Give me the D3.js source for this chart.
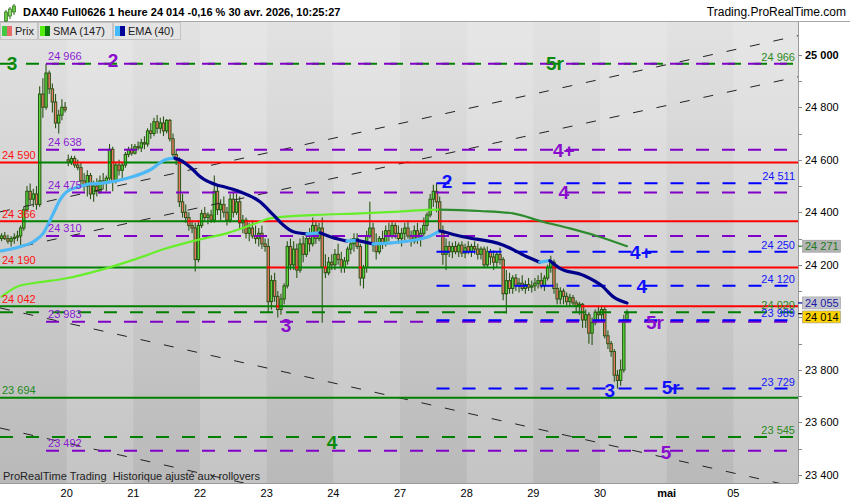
<!DOCTYPE html>
<html><head><meta charset="utf-8">
<script src="https://cdn.jsdelivr.net/npm/d3@7"></script>
<style>
body{margin:0;background:#fff;}
svg{display:block;font-family:"Liberation Sans",Arial,sans-serif;}
</style></head><body>
<svg id="c" width="850" height="500"></svg>
<script>
// ---------------- DATA ----------------
const days = ["17","20","21","22","23","24","27","28","29","30","mai","05"];
const barsPerDay = 21;
// hourly candles [open, high, low, close]
const candles = [
[24300,24320,24290,24310],[24310,24325,24295,24300],[24300,24315,24280,24290],[24290,24310,24270,24300],
[24300,24320,24280,24305],[24305,24330,24290,24310],[24310,24350,24270,24340],[24340,24420,24330,24410],
[24410,24500,24400,24480],[24480,24510,24430,24450],[24450,24490,24420,24470],[24470,24500,24410,24430],
[24430,24880,24420,24850],[24850,24910,24760,24800],[24800,24966,24790,24930],[24930,24940,24850,24870],
[24870,24890,24780,24820],[24820,24850,24720,24740],[24740,24790,24700,24770],[24770,24830,24750,24800],
[24800,24820,24780,24790],
[24600,24620,24575,24590],[24590,24615,24580,24605],[24605,24615,24570,24580],[24580,24600,24560,24570],
[24570,24590,24500,24520],[24520,24550,24480,24500],[24500,24560,24460,24540],[24540,24550,24450,24470],
[24470,24520,24440,24500],[24500,24530,24460,24480],[24480,24540,24470,24520],[24520,24550,24490,24510],
[24510,24540,24480,24530],[24530,24660,24520,24640],[24640,24650,24480,24520],[24520,24590,24510,24580],
[24580,24600,24540,24560],[24560,24590,24530,24580],[24580,24630,24570,24620],[24620,24650,24610,24640],
[24640,24660,24615,24625],
[24625,24660,24620,24650],[24650,24670,24635,24645],[24645,24680,24630,24665],[24665,24690,24640,24660],
[24660,24720,24650,24710],[24710,24740,24680,24700],[24700,24760,24690,24745],[24745,24770,24700,24720],
[24720,24760,24700,24740],[24740,24765,24690,24710],[24710,24755,24700,24750],[24750,24755,24670,24680],
[24680,24700,24600,24620],[24620,24640,24580,24600],[24600,24610,24420,24440],[24440,24470,24380,24400],
[24400,24430,24360,24380],[24380,24400,24330,24350],[24350,24370,24320,24340],[24340,24360,24175,24220],
[24220,24370,24210,24350],
[24350,24410,24340,24395],[24395,24420,24370,24380],[24380,24400,24355,24390],[24390,24410,24360,24370],
[24370,24540,24360,24480],[24480,24500,24390,24410],[24410,24450,24370,24430],[24430,24460,24380,24400],
[24400,24420,24350,24370],[24370,24470,24360,24450],[24450,24480,24380,24400],[24400,24470,24390,24440],
[24440,24460,24340,24360],[24360,24390,24320,24370],[24370,24380,24300,24320],[24320,24360,24290,24340],
[24340,24370,24300,24310],[24310,24350,24280,24300],[24300,24340,24270,24320],[24320,24350,24260,24280],
[24280,24300,24250,24270],
[24270,24300,24020,24060],[24060,24160,24030,24140],[24140,24170,24060,24080],[24080,24100,24000,24030],
[24030,24090,24010,24070],[24070,24130,24050,24120],[24120,24290,24110,24270],[24270,24300,24180,24200],
[24200,24290,24180,24260],[24260,24280,24150,24180],[24180,24300,24170,24280],[24280,24310,24210,24240],
[24240,24320,24230,24300],[24300,24340,24250,24280],[24280,24380,24270,24350],[24350,24370,24280,24300],
[24300,24360,24290,24340],[24340,24380,23980,24190],[24190,24240,24150,24170],[24170,24230,24160,24210],
[24210,24240,24180,24200],
[24200,24260,24180,24240],[24240,24280,24200,24220],[24220,24250,24170,24190],[24190,24230,24170,24215],
[24215,24270,24200,24260],[24260,24300,24240,24280],[24280,24320,24250,24300],[24300,24320,24260,24270],
[24270,24280,24120,24150],[24150,24200,24110,24190],[24190,24330,24170,24310],[24310,24440,24300,24340],
[24340,24360,24250,24280],[24280,24320,24220,24250],[24250,24310,24240,24300],[24300,24330,24260,24280],
[24280,24350,24270,24330],[24330,24360,24290,24310],[24310,24370,24300,24350],[24350,24360,24300,24320],
[24320,24350,24280,24300],
[24300,24340,24270,24320],[24320,24360,24290,24340],[24340,24370,24300,24310],[24310,24330,24270,24290],
[24290,24350,24280,24330],[24330,24360,24280,24300],[24300,24340,24270,24320],[24320,24380,24310,24350],
[24350,24400,24330,24390],[24390,24470,24380,24450],[24450,24505,24420,24480],[24480,24511,24400,24440],
[24440,24460,24320,24330],[24330,24350,24200,24240],[24240,24300,24180,24270],[24270,24290,24230,24250],
[24250,24285,24225,24270],[24270,24290,24240,24250],[24250,24285,24230,24275],[24275,24290,24230,24245],
[24245,24280,24225,24265],
[24270,24290,24240,24250],[24250,24280,24230,24270],[24270,24290,24240,24260],[24260,24280,24220,24240],
[24240,24270,24220,24260],[24260,24270,24190,24200],[24200,24270,24190,24250],[24250,24260,24200,24230],
[24230,24255,24180,24210],[24210,24250,24190,24240],[24240,24265,24200,24220],[24220,24230,24065,24090],
[24090,24180,24015,24140],[24140,24170,24090,24110],[24110,24160,24090,24150],[24150,24165,24100,24120],
[24120,24150,24095,24130],[24130,24160,24100,24110],[24110,24140,24090,24125],[24125,24150,24100,24115],
[24115,24140,24095,24120],
[24120,24150,24100,24130],[24130,24160,24110,24140],[24140,24170,24110,24120],[24120,24160,24100,24150],
[24150,24200,24140,24190],[24190,24235,24170,24210],[24210,24220,24090,24110],[24110,24130,24050,24070],
[24070,24115,24050,24100],[24100,24110,24050,24080],[24080,24095,24045,24060],[24060,24090,24040,24075],
[24075,24085,24040,24055],[24055,24065,24020,24045],[24045,24060,24010,24050],[24050,24055,23960,23990],
[23990,24030,23960,24010],[24010,24020,23900,23940],[23940,24000,23895,23980],[23980,24030,23970,24020],
[24020,24040,23990,24010],
[24010,24045,23990,24030],[24030,24040,23920,23930],[23930,23950,23880,23900],[23900,23910,23850,23870],
[23870,23880,23755,23780],[23780,23800,23729,23760],[23760,23840,23740,23800],[23800,24010,23790,23990],
[23990,24030,23980,24014]
];
// moving averages (bar index, value)
const smaIdx = [0,4.8,10,20.5,31,41.5,52,62.5,70.9,81.4,84.5,99.2,112.9,123.4,133.9,138,144.4,150.7,161.1,170.5,179,187.5,197];
const smaVal = [24079,24117,24130,24149,24180,24219,24263,24297,24320,24364,24377,24390,24396,24402,24409,24410,24408,24405,24396,24364,24339,24310,24271];
const emaIdx = [0,5.8,10,13.1,16.3,18.4,20.5,24.7,27.8,31,36.3,41.5,46.7,52,54.6,56.2,60.4,62.5,67.8,69.8,75.1,81.4,85.6,88.7,91.9,96.2,100.3,104,108.8,112,117,123,134,138.1,145.3,157.9,165.5,169.5,172.7,175.9,183.1,189.4,192.6,197];
const emaVal = [24253,24269,24288,24320,24396,24447,24478,24498,24508,24510,24520,24536,24561,24602,24606,24599,24561,24536,24504,24498,24478,24440,24390,24352,24326,24318,24322,24305,24290,24293,24280,24284,24305,24329,24307,24276,24231,24210,24216,24187,24161,24117,24079,24055];
const lastPrice = 24014;
// support / resistance levels (solid)
const srLevels = [24590, 24366, 24190, 24042, 23694];
// projection levels (dashed)
const purpleLevels = [24966, 24638, 24475, 24310, 23983, 23492];
const purpleStart = 14;
const blueLevels = [24511, 24250, 24120, 23989, 23729];
const blueStart = 137;
const greenLevels = [24966, 24020, 23545];
const greenStart = -0.5;
// trend lines: [[barIndex, price],[barIndex, price]]
const trendLines = [
  [[6.74,24421],[237.6,25037]],
  [[-0.5,24252],[237.6,24881]],
  [[-0.5,24036],[232.6,23402]],
  [[-0.5,23579],[75.1,23373]]
];
// wave annotations
const waveLabels = [
  {t:"3", c:"green", i:3.3, v:24966},
  {t:"2", c:"purple", i:35.1, v:24980},
  {t:"5r", c:"green", i:174.3, v:24966},
  {t:"4+", c:"purple", i:177.1, v:24638},
  {t:"4", c:"purple", i:177.1, v:24475},
  {t:"2", c:"blue", i:140.3, v:24519},
  {t:"4+", c:"blue", i:201.4, v:24250},
  {t:"4", c:"blue", i:201.7, v:24120},
  {t:"3", c:"purple", i:89.6, v:23971},
  {t:"5r", c:"purple", i:205.8, v:23983},
  {t:"3", c:"blue", i:191.6, v:23723},
  {t:"5r", c:"blue", i:210.8, v:23735},
  {t:"4", c:"green", i:104.1, v:23526},
  {t:"5", c:"purple", i:209.3, v:23488}
];
const yTicks = [23400,23600,23800,24000,24200,24400,24600,24800,25000];
const yMinor = [23500,23700,23900,24100,24300,24500,24700,24900];

// ---------------- CHART ----------------
const W=850,H=500, L=0, R=798, T=22, B=483;
const svg = d3.select("#c");
const x = d3.scaleLinear().domain([0, barsPerDay]).range([0, 200/3]);
const y = d3.scaleLinear().domain([23400,25000]).range([475,54.7]);
const fmt = d3.formatLocale({decimal:",",thousands:" ",grouping:[3],currency:["",""]}).format(",d");

const defs = svg.append("defs");
const gr = defs.append("linearGradient").attr("id","bg").attr("x1",0).attr("y1",0).attr("x2",0).attr("y2",1);
gr.append("stop").attr("offset","0%").attr("stop-color","#e2e2e2");
gr.append("stop").attr("offset","100%").attr("stop-color","#b9b9b9");
defs.append("clipPath").attr("id","clip").append("rect").attr("x",L).attr("y",T).attr("width",R-L).attr("height",B-T);

svg.append("rect").attr("width",W).attr("height",H).attr("fill","#fff");
svg.append("rect").attr("x",L).attr("y",T).attr("width",R-L).attr("height",B-T).attr("fill","url(#bg)");
// day bands
svg.append("g").selectAll("rect").data(days).join("rect")
  .attr("x",(d,k)=>x(k*barsPerDay)).attr("y",T)
  .attr("width",x(barsPerDay)).attr("height",B-T)
  .attr("fill","#fff").attr("opacity",(d,k)=>k%2===1?0.16:0)
  .attr("clip-path","url(#clip)");

const plot = svg.append("g").attr("clip-path","url(#clip)");

// candles
const cg = plot.append("g");
cg.selectAll("line").data(candles).join("line")
  .attr("x1",(d,i)=>x(i+0.5)).attr("x2",(d,i)=>x(i+0.5))
  .attr("y1",d=>y(d[1])).attr("y2",d=>y(d[2]))
  .attr("stroke","#2a5515").attr("stroke-width",1.1);
cg.selectAll("rect").data(candles).join("rect")
  .attr("x",(d,i)=>x(i+0.5)-1.2).attr("width",2.4)
  .attr("y",d=>y(Math.max(d[0],d[3])))
  .attr("height",d=>Math.max(0.8,y(Math.min(d[0],d[3]))-y(Math.max(d[0],d[3]))))
  .attr("fill",d=>d[3]>=d[0]?"#55d838":"#f07868")
  .attr("stroke","#2a5515").attr("stroke-width",1);

// trend lines (black dashed)
const xEndIdx = x.invert(R);
plot.selectAll("line.tr").data(trendLines).join("line").attr("class","tr")
  .each(function(d){
    const [a,b]=d; const s=(b[1]-a[1])/(b[0]-a[0]);
    const i0=-0.5, i1=xEndIdx;
    d3.select(this).attr("x1",x(i0+0.5)).attr("y1",y(a[1]+s*(i0-a[0])))
      .attr("x2",x(i1+0.5)).attr("y2",y(a[1]+s*(i1-a[0])));
  })
  .attr("stroke","#222").attr("stroke-width",1).attr("stroke-dasharray","10,14");

// support/resistance solid lines colored by close vs level
srLevels.forEach(lv=>{
  const runs=[]; let cur=null;
  candles.forEach((d,i)=>{
    const c = d[3]>=lv ? "#008000" : "#ff0000";
    if(!cur||cur.c!==c){cur={c,a:i,b:i+1};runs.push(cur);} else cur.b=i+1;
  });
  runs[runs.length-1].b = xEndIdx;
  plot.append("g").selectAll("line").data(runs).join("line")
    .attr("x1",r=>x(r.a)).attr("x2",r=>x(r.b)).attr("y1",y(lv)).attr("y2",y(lv))
    .attr("stroke",r=>r.c).attr("stroke-width",2);
  const endColor = candles[candles.length-1][3]>=lv ? "#008000" : "#ff0000";
  svg.append("text").attr("x",2).attr("y",y(lv)-3.5).attr("font-size",11)
    .attr("fill",endColor==="#ff0000"?"#ff1010":"#1a8a1a").text(fmt(lv));
});

// dashed projection lines
const dashEnd = R-5;
function dashed(levels,start,color){
  plot.append("g").selectAll("line").data(levels).join("line")
    .attr("x1",x(start+0.5)).attr("x2",dashEnd).attr("y1",d=>y(d)).attr("y2",d=>y(d))
    .attr("stroke",color).attr("stroke-width",2).attr("stroke-dasharray","13,13");
}
dashed(greenLevels,greenStart,"#008000");
dashed(purpleLevels,purpleStart,"#8000c8");
dashed(blueLevels,blueStart,"#0000ff");

// purple level labels (left)
svg.append("g").selectAll("text").data(purpleLevels).join("text")
  .attr("x",x(purpleStart+0.5)+2).attr("y",d=>y(d)-3.5).attr("font-size",11)
  .attr("fill","#8a1ad0").text(d=>fmt(d));
// blue & green level labels (right)
svg.append("g").selectAll("text").data(blueLevels).join("text")
  .attr("x",795).attr("y",d=>y(d)-3).attr("font-size",11).attr("text-anchor","end")
  .attr("fill","#1515ff").text(d=>fmt(d));
svg.append("g").selectAll("text").data(greenLevels).join("text")
  .attr("x",795).attr("y",d=>y(d)-3).attr("font-size",11).attr("text-anchor","end")
  .attr("fill","#2a8a1a").text(d=>fmt(d));

// moving averages
function colorRuns(idx,val){
  const segs=[]; let cur=null;
  for(let k=1;k<idx.length;k++){
    const up = val[k]>val[k-1];
    if(!cur||cur.up!==up){cur={up,pts:[[idx[k-1],val[k-1]]]};segs.push(cur);}
    cur.pts.push([idx[k],val[k]]);
  }
  return segs;
}
const maLine = d3.line().x(p=>x(p[0]+0.5)).y(p=>y(p[1])).curve(d3.curveMonotoneX);
plot.append("g").selectAll("path").data(colorRuns(smaIdx,smaVal)).join("path")
  .attr("d",s=>maLine(s.pts)).attr("fill","none")
  .attr("stroke",s=>s.up?"#66ee2a":"#2e8b2e").attr("stroke-width",2.2).attr("stroke-linecap","round");
plot.append("g").selectAll("path").data(colorRuns(emaIdx,emaVal)).join("path")
  .attr("d",s=>maLine(s.pts)).attr("fill","none")
  .attr("stroke",s=>s.up?"#4cb8f5":"#00008b").attr("stroke-width",3.2).attr("stroke-linecap","round");

// wave labels
svg.append("g").selectAll("text").data(waveLabels).join("text")
  .attr("x",d=>x(d.i+0.5)).attr("y",d=>y(d.v)).attr("dy","0.36em")
  .attr("text-anchor","middle").attr("font-size",19).attr("font-weight","bold")
  .attr("fill",d=>d.c==="green"?"#0a8a0a":d.c==="purple"?"#8a0ccf":"#1010ff")
  .text(d=>d.t);

// footer text inside plot
svg.append("text").attr("x",3).attr("y",480).attr("font-size",11).attr("fill","#222")
  .style("white-space","pre").text("ProRealTime Trading  Historique ajusté aux rollovers");

// header
svg.append("rect").attr("x",0).attr("y",0).attr("width",W).attr("height",T).attr("fill","#fff");
svg.append("line").attr("x1",0).attr("x2",W).attr("y1",21.5).attr("y2",21.5).attr("stroke","#a8a8a8");
const icon = svg.append("g");
[[6,10,14,1],[10,7,12,0],[14,4,11,1]].forEach(c=>{
  icon.append("line").attr("x1",c[0]).attr("x2",c[0]).attr("y1",c[1]).attr("y2",c[1]+c[2]).attr("stroke","#2b6a16");
  icon.append("rect").attr("x",c[0]-1.5).attr("y",c[1]+2).attr("width",3).attr("height",c[2]-5)
    .attr("fill",c[3]?"#66cc44":"#88dd66").attr("stroke","#2b6a16").attr("stroke-width",0.7);
});
svg.append("text").attr("x",23).attr("y",16).attr("font-size",11).attr("font-weight","bold").attr("fill","#000")
  .text("DAX40 Full0626 1 heure 24 014 -0,16 % 30 avr. 2026, 10:25:27");
svg.append("text").attr("x",846).attr("y",16).attr("font-size",12).attr("text-anchor","end").attr("fill","#000")
  .text("Trading.ProRealTime.com");

// legend
const legend = [
  {t:"Prix", x:0, w:37, c1:"#44c844", c2:"#e86a6a"},
  {t:"SMA (147)", x:38, w:74, c1:"#55ee11", c2:"#0a7a0a"},
  {t:"EMA (40)", x:113, w:67, c1:"#44bbff", c2:"#000099"}
];
const lg = svg.append("g").selectAll("g").data(legend).join("g");
lg.append("rect").attr("x",d=>d.x+0.5).attr("y",22.5).attr("width",d=>d.w).attr("height",17)
  .attr("fill","#e4e4e4").attr("stroke","#c4c4c4");
lg.append("rect").attr("x",d=>d.x+2).attr("y",26).attr("width",5).attr("height",10).attr("fill",d=>d.c1);
lg.append("rect").attr("x",d=>d.x+7).attr("y",26).attr("width",5).attr("height",10).attr("fill",d=>d.c2);
lg.append("text").attr("x",d=>d.x+15).attr("y",35).attr("font-size",11).attr("fill","#222").text(d=>d.t);

// right axis
svg.append("rect").attr("x",R).attr("y",T).attr("width",W-R).attr("height",H-T).attr("fill","#fff");
svg.append("line").attr("x1",R+0.5).attr("x2",R+0.5).attr("y1",T).attr("y2",B).attr("stroke","#9a9a9a");
svg.append("g").selectAll("line").data(yTicks.concat(yMinor)).join("line")
  .attr("x1",R).attr("x2",R+4).attr("y1",d=>Math.round(y(d))+0.5).attr("y2",d=>Math.round(y(d))+0.5)
  .attr("stroke","#888");
svg.append("g").selectAll("text").data(yTicks).join("text")
  .attr("x",805).attr("y",d=>y(d)).attr("dy","0.35em").attr("font-size",11)
  .attr("font-weight",d=>d%1000===0?"bold":"normal").attr("fill","#000").text(d=>fmt(d));

// value boxes on right axis
const smaLast = smaVal[smaVal.length-1], emaLast = emaVal[emaVal.length-1];
const boxes = [
  {v:smaLast, fill:"#b4b4b4", tc:"#217a21", tick:"#217a21", cy:y(smaLast)},
  {v:emaLast, fill:"#c4c4cc", tc:"#1a1aa0", tick:"#000099", cy:y(emaLast)},
  {v:lastPrice, fill:"#ffd200", tc:"#000", tick:"#000", cy:Math.max(y(lastPrice), y(emaLast)+14)}
];
const bx = svg.append("g").selectAll("g").data(boxes).join("g");
bx.append("line").attr("x1",R).attr("x2",803).attr("y1",d=>y(d.v)).attr("y2",d=>y(d.v)).attr("stroke",d=>d.tick).attr("stroke-width",1.2);
bx.append("rect").attr("x",802.5).attr("y",d=>d.cy-6).attr("width",38).attr("height",12)
  .attr("fill",d=>d.fill).attr("stroke","#999").attr("stroke-width",0.6);
bx.append("text").attr("x",805).attr("y",d=>d.cy).attr("dy","0.36em").attr("font-size",11)
  .attr("fill",d=>d.tc).text(d=>fmt(d.v));

// bottom axis
svg.append("rect").attr("x",0).attr("y",B).attr("width",W).attr("height",H-B).attr("fill","#fff");
svg.append("line").attr("x1",0).attr("x2",R).attr("y1",B+0.5).attr("y2",B+0.5).attr("stroke","#9a9a9a");
svg.append("g").selectAll("text").data(days.slice(1)).join("text")
  .attr("x",(d,k)=>x((k+1)*barsPerDay)).attr("y",497).attr("text-anchor","middle").attr("font-size",11)
  .attr("font-weight",d=>d==="mai"?"bold":"normal").attr("fill","#000").text(d=>d);
</script>
</body></html>
